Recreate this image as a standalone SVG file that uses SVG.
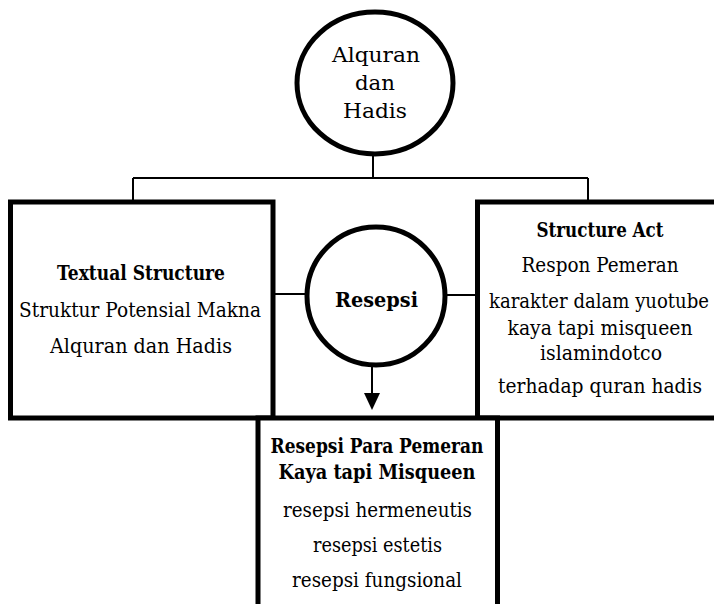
<svg xmlns="http://www.w3.org/2000/svg" width="714" height="604" viewBox="0 0 714 604">
<style>
.box{fill:#fff;stroke:#000;stroke-width:5}
.ln{fill:none;stroke:#000;stroke-width:2}
text{font-family:"DejaVu Serif","Liberation Serif",serif;font-size:21px;fill:#000;text-anchor:middle}
.b{font-weight:bold}
</style>
<rect width="714" height="604" fill="#fff"/>
<g id="connectors">
<path class="ln" d="M373,153 V178 M133,178 H588 M133,178 V202 M588,178 V202"/>
<path class="ln" d="M273,294 H307 M445,295 H477"/>
<path class="ln" d="M372,365 V395"/>
<polygon points="364,393 380,393 372,410" fill="#000"/>
</g>
<g id="node-alquran">
<ellipse class="box" cx="375" cy="83" rx="78" ry="71"/>
<text x="376" y="62" textLength="88" lengthAdjust="spacingAndGlyphs">Alquran</text>
<text x="375" y="90" textLength="40" lengthAdjust="spacingAndGlyphs">dan</text>
<text x="375" y="118" textLength="64" lengthAdjust="spacingAndGlyphs">Hadis</text>
</g>
<g id="node-textual">
<rect class="box" x="10.5" y="202" width="262.5" height="216"/>
<text class="b" x="141" y="280" textLength="168" lengthAdjust="spacingAndGlyphs">Textual Structure</text>
<text x="140" y="317" textLength="242" lengthAdjust="spacingAndGlyphs">Struktur Potensial Makna</text>
<text x="141" y="353" textLength="182" lengthAdjust="spacingAndGlyphs">Alquran dan Hadis</text>
</g>
<g id="node-structure-act">
<rect class="box" x="477.5" y="202" width="245" height="216"/>
<text class="b" x="600" y="237" textLength="127" lengthAdjust="spacingAndGlyphs">Structure Act</text>
<text x="600" y="272" textLength="157" lengthAdjust="spacingAndGlyphs">Respon Pemeran</text>
<text x="599" y="308" textLength="220" lengthAdjust="spacingAndGlyphs">karakter dalam yuotube</text>
<text x="600" y="335" textLength="185" lengthAdjust="spacingAndGlyphs">kaya tapi misqueen</text>
<text x="601" y="360" textLength="122" lengthAdjust="spacingAndGlyphs">islamindotco</text>
<text x="600" y="393" textLength="204" lengthAdjust="spacingAndGlyphs">terhadap quran hadis</text>
</g>
<g id="node-resepsi">
<circle class="box" cx="376" cy="296" r="69"/>
<text class="b" x="376.5" y="307" textLength="83" lengthAdjust="spacingAndGlyphs">Resepsi</text>
</g>
<g id="node-resepsi-pemeran">
<rect class="box" x="258" y="418" width="239.5" height="200"/>
<text class="b" x="377" y="453" textLength="213" lengthAdjust="spacingAndGlyphs">Resepsi Para Pemeran</text>
<text class="b" x="377" y="479" textLength="197" lengthAdjust="spacingAndGlyphs">Kaya tapi Misqueen</text>
<text x="377.5" y="517" textLength="189" lengthAdjust="spacingAndGlyphs">resepsi hermeneutis</text>
<text x="377.5" y="552" textLength="129" lengthAdjust="spacingAndGlyphs">resepsi estetis</text>
<text x="377" y="587" textLength="170" lengthAdjust="spacingAndGlyphs">resepsi fungsional</text>
</g>
</svg>
